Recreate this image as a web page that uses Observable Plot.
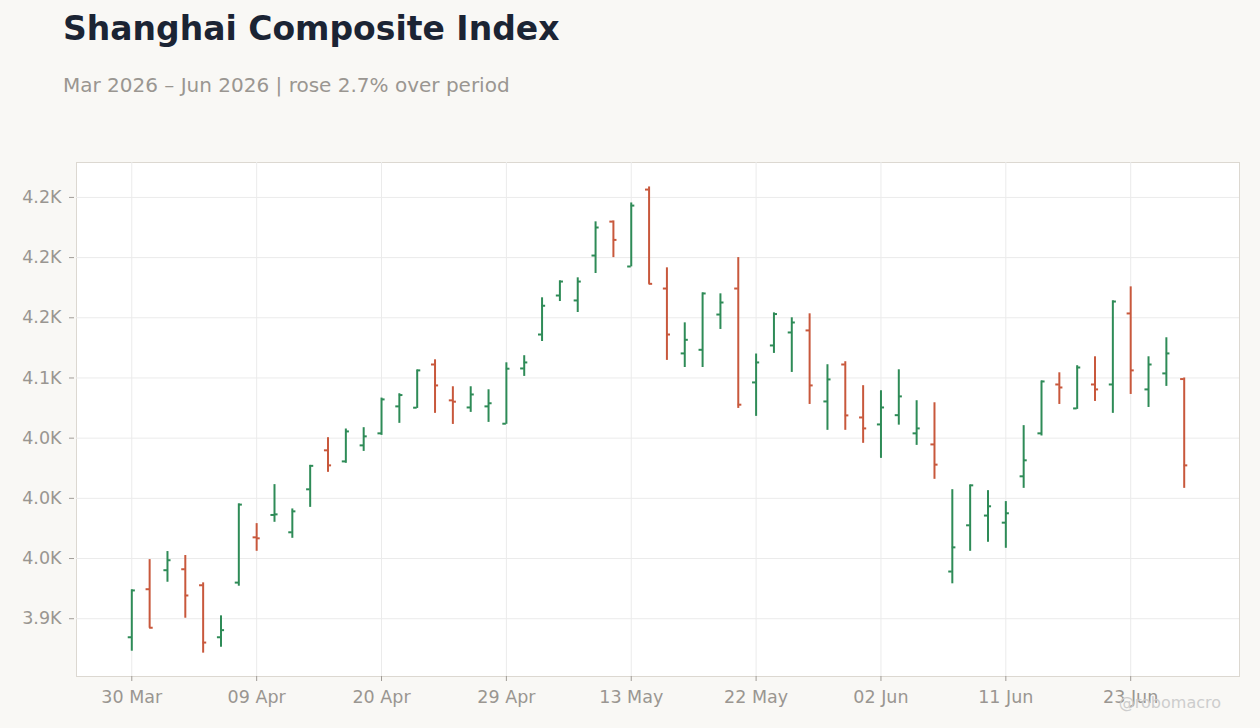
<!DOCTYPE html>
<html><head><meta charset="utf-8">
<script src="https://cdn.jsdelivr.net/npm/d3@7"></script>
<script src="https://cdn.jsdelivr.net/npm/@observablehq/plot@0.6"></script>
<style>
html,body{margin:0;padding:0;background:#f9f8f5;width:1260px;height:728px;overflow:hidden;font-family:"DejaVu Sans",sans-serif;}
#title{position:absolute;left:63px;top:12px;font-size:33px;line-height:33px;font-weight:bold;color:#1b2434;white-space:nowrap;}
#subtitle{position:absolute;left:63px;top:75px;font-size:20px;line-height:20px;color:#9a9691;white-space:nowrap;}
#chart{position:absolute;left:0;top:130px;}
#wm{position:absolute;right:39px;top:695px;font-size:16px;line-height:16px;color:#cdcdcd;white-space:nowrap;}
</style></head><body>
<div id="title">Shanghai Composite Index</div>
<div id="subtitle">Mar 2026 – Jun 2026 | rose 2.7% over period</div>
<div id="chart"></div>
<div id="wm">@robomacro</div>
<script>
const dates = ["2026-03-30","2026-03-31","2026-04-01","2026-04-02","2026-04-03","2026-04-07","2026-04-08","2026-04-09","2026-04-10","2026-04-13",
"2026-04-14","2026-04-15","2026-04-16","2026-04-17","2026-04-20","2026-04-21","2026-04-22","2026-04-23","2026-04-24","2026-04-27",
"2026-04-28","2026-04-29","2026-04-30","2026-05-06","2026-05-07","2026-05-08","2026-05-11","2026-05-12","2026-05-13","2026-05-14",
"2026-05-15","2026-05-18","2026-05-19","2026-05-20","2026-05-21","2026-05-22","2026-05-25","2026-05-26","2026-05-27","2026-05-28",
"2026-05-29","2026-06-01","2026-06-02","2026-06-03","2026-06-04","2026-06-05","2026-06-08","2026-06-09","2026-06-10","2026-06-11",
"2026-06-12","2026-06-15","2026-06-16","2026-06-17","2026-06-18","2026-06-22","2026-06-23","2026-06-24","2026-06-25","2026-06-26"];
const open = [3884.6,3924.5,3940.3,3941.1,3927.8,3884.6,3930.0,3967.6,3986.2,3971.8,
4007.5,4039.9,4030.7,4044.0,4054.0,4076.4,4075.3,4111.2,4081.4,4075.5,
4076.4,4062.0,4107.9,4136.1,4168.5,4164.4,4201.7,4229.9,4192.6,4256.5,
4174.3,4120.4,4123.4,4152.7,4174.3,4096.3,4127.0,4137.8,4139.5,4080.5,
4111.2,4067.2,4061.4,4069.1,4054.0,4044.8,3939.2,3977.6,3985.7,3979.8,
4018.3,4054.0,4094.6,4074.7,4094.6,4094.6,4153.6,4090.5,4103.8,4099.1];
const high = [3924.0,3949.1,3955.8,3952.5,3929.8,3902.4,3995.4,3979.0,4011.4,3991.2,
4027.4,4050.4,4057.6,4058.7,4083.3,4086.9,4106.6,4115.1,4092.7,4092.7,
4090.2,4112.6,4118.5,4166.6,4180.7,4183.2,4229.7,4230.5,4245.4,4258.7,
4191.5,4145.8,4170.7,4169.9,4200.0,4119.9,4154.1,4150.0,4153.3,4111.0,
4113.5,4093.6,4089.4,4106.8,4081.1,4079.4,4007.2,4011.1,4006.4,3997.3,
4060.4,4097.5,4104.3,4110.2,4117.6,4164.1,4175.7,4117.6,4133.4,4100.0];
const low = [3873.0,3892.1,3930.3,3900.4,3871.4,3876.3,3927.0,3956.0,3980.1,3966.8,
3992.5,4021.6,4029.1,4039.0,4052.3,4062.3,4074.7,4070.6,4061.4,4071.4,
4063.1,4061.5,4101.3,4130.3,4163.5,4154.4,4186.8,4200.0,4192.3,4177.8,
4114.6,4108.7,4108.7,4140.3,4074.7,4068.1,4120.4,4104.6,4078.0,4056.5,
4056.5,4045.7,4033.2,4060.8,4044.0,4015.8,3929.0,3956.0,3963.5,3958.5,
4008.3,4051.8,4078.0,4073.9,4080.5,4070.6,4086.3,4075.5,4093.0,4008.3];
const close = [3923.5,3892.5,3948.6,3919.3,3880.2,3890.5,3994.8,3966.8,3986.7,3989.2,
4027.0,4027.4,4055.6,4051.5,4082.2,4085.8,4106.3,4093.8,4080.3,4086.3,
4079.0,4107.7,4112.9,4160.0,4180.1,4180.1,4225.0,4214.7,4243.2,4178.2,
4136.1,4131.7,4170.2,4162.7,4077.8,4112.9,4153.1,4146.1,4093.8,4098.8,
4068.9,4058.1,4075.5,4084.7,4058.1,4028.0,3959.3,4010.8,3993.4,3987.6,
4031.6,4097.1,4092.1,4108.7,4090.5,4163.5,4106.3,4111.2,4120.4,4027.4];
const yTicks = [3900,3950,4000,4050,4100,4150,4200,4250];
const yTickLabels = ["3.9K","4.0K","4.0K","4.0K","4.1K","4.2K","4.2K","4.2K"];
const xTicks = [0,7,14,21,28,35,42,49,56];

const UP = "#2e8b57", DOWN = "#c8583c";
const parse = d3.utcParse("%Y-%m-%d");
const fmt = d3.utcFormat("%d %b");
const rows = dates.map((d, i) => ({i, date: parse(d), open: open[i], high: high[i], low: low[i], close: close[i]}));
const col = d => d.close >= d.open ? UP : DOWN;
const half = 0.2;

const chart = Plot.plot({
  width: 1260,
  height: 598,
  marginTop: 32,
  marginBottom: 52,
  marginLeft: 76,
  marginRight: 21,
  style: {fontFamily: "DejaVu Sans", fontSize: "17.5px", background: "transparent", color: "#9a9691", overflow: "visible"},
  x: {type: "linear", domain: [-3.1, 62.1]},
  y: {domain: [3852, 4279]},
  color: {type: "identity"},
  marks: [
    Plot.frame({fill: "white", stroke: "#dcd8d1"}),
    Plot.gridX(xTicks, {stroke: "#ebebeb", strokeOpacity: 1}),
    Plot.gridY(yTicks, {stroke: "#ebebeb", strokeOpacity: 1}),
    Plot.axisY(yTicks, {tickFormat: d => yTickLabels[yTicks.indexOf(d)], tickSize: 5, tickPadding: 8, dx: -2, label: null, stroke: "#a09c97"}),
    Plot.axisX(xTicks, {tickFormat: i => fmt(rows[i].date), tickSize: 5, tickPadding: 9, label: null, stroke: "#a09c97"}),
    Plot.ruleX(rows, {x: "i", y1: "low", y2: "high", stroke: col, strokeWidth: 2}),
    Plot.ruleY(rows, {x1: d => d.i - half, x2: "i", y: "open", stroke: col, strokeWidth: 2}),
    Plot.ruleY(rows, {x1: "i", x2: d => d.i + half, y: "close", stroke: col, strokeWidth: 2})
  ]
});
document.getElementById("chart").appendChild(chart);
</script>
</body></html>
